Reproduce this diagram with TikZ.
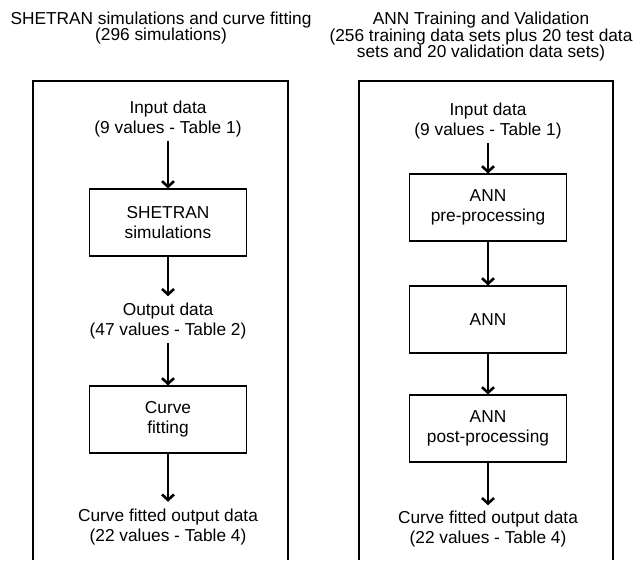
\documentclass[tikz,border=0pt]{standalone}
\usepackage{fontspec}
\setmainfont{Liberation Sans}
\usepackage{tikz}
\usetikzlibrary{arrows.meta}

\begin{document}
\begin{tikzpicture}[x=1pt, y=-1pt,
    every node/.style={font=\fontsize{17.3}{20}\selectfont, align=center},
    txt/.style={inner ysep=3pt},
    headline/.style={font=\fontsize{17.3}{16.5}\selectfont},
    procbox/.style={draw, line width=1.1pt, minimum width=157pt, minimum height=67pt, inner sep=0pt},
    flow/.style={-{Straight Barb[length=5.5pt,width=12pt]}, line width=2.6pt},
    frame/.style={line width=1.5pt}]
    \useasboundingbox (0,0) rectangle (639,560);
    \node[headline] (title1) at (161,28) {SHETRAN simulations and curve fitting \\ (296 simulations)};
    \node[headline] (title2) at (481,36.6) {ANN Training and Validation \\ (256 training data sets plus 20 test data \\ sets and 20 validation data sets)};
    \draw[frame] (33,560) -- (33,81) -- (288,81) -- (288,560);
    \draw[frame] (359,560) -- (359,81) -- (613,81) -- (613,560);
    \node[txt] (in1) at (168,119.5) {Input data \\ (9 values - Table 1)};
    \node[procbox] (sim) at (168,222.5) {SHETRAN \\ simulations};
    \node[txt] (out1) at (168,321.5) {Output data \\ (47 values - Table 2)};
    \node[procbox] (fit) at (168,419.5) {Curve \\ fitting};
    \node[txt] (res1) at (168,527) {Curve fitted output data \\ (22 values - Table 4)};
    \node[txt] (in2) at (488,121.5) {Input data \\ (9 values - Table 1)};
    \node[procbox] (pre) at (488,207.5) {ANN \\ pre-processing};
    \node[procbox] (ann) at (488,319.5) {ANN};
    \node[procbox] (post) at (488,428.5) {ANN \\ post-processing};
    \node[txt] (res2) at (488,529.5) {Curve fitted output data \\ (22 values - Table 4)};
    \draw[flow] (in1) -- (sim);
    \draw[flow, shorten >=4pt] (sim) -- (out1);
    \draw[flow] (out1) -- (fit);
    \draw[flow, shorten >=4pt] (fit) -- (res1);
    \draw[flow] (in2) -- (pre);
    \draw[flow] (pre) -- (ann);
    \draw[flow] (ann) -- (post);
    \draw[flow, shorten >=3pt] (post) -- (res2);
\end{tikzpicture}
\end{document}
